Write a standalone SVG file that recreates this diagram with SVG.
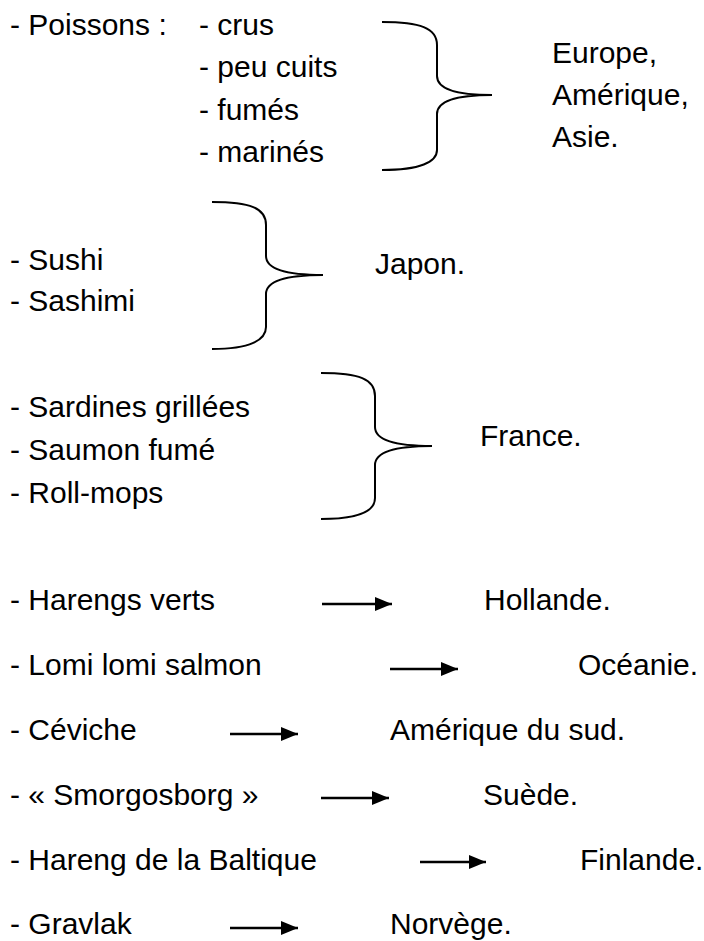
<svg xmlns="http://www.w3.org/2000/svg" width="704" height="941" viewBox="0 0 704 941">
<style>
text{font-family:"Liberation Sans",Arial,sans-serif;font-size:30px;fill:#000}
.brace{fill:none;stroke:#000;stroke-width:2}
.arr{stroke:#000;stroke-width:2.4;fill:none}
</style>
<defs>
<marker id="ah" viewBox="0 0 17 14" refX="17" refY="7" markerWidth="17" markerHeight="14" markerUnits="userSpaceOnUse" orient="auto">
<path d="M0,0 L17,7 L0,14 z" fill="#000"/>
</marker>
</defs>
<rect width="704" height="941" fill="#fff"/>
<g id="group-poissons">
<text x="10" y="35">- Poissons :</text>
<text x="199" y="35">- crus</text>
<text x="199" y="77">- peu cuits</text>
<text x="199" y="120">- fumés</text>
<text x="199" y="162">- marinés</text>
</g>
<g id="region-europe">
<text x="552" y="63">Europe,</text>
<text x="552" y="105">Amérique,</text>
<text x="552" y="147">Asie.</text>
</g>
<g id="group-japon">
<text x="10" y="270">- Sushi</text>
<text x="10" y="311">- Sashimi</text>
</g>
<g id="region-japon"><text x="375" y="274">Japon.</text></g>
<g id="group-france">
<text x="10" y="417">- Sardines grillées</text>
<text x="10" y="460">- Saumon fumé</text>
<text x="10" y="503">- Roll-mops</text>
</g>
<g id="region-france"><text x="480" y="446">France.</text></g>
<g id="braces">
<path class="brace" d="M382,22 C420,22 437,28 437,45 L437,76 C437,88 455,95 492,95 C455,95 437,102 437,114 L437,150 C437,162 420,170 382,170"/>
<path class="brace" d="M212,202 C250,202 266,208 266,225 L266,256 C266,268 284,275 323,275 C284,275 266,282 266,294 L266,327 C266,340 250,349 212,349"/>
<path class="brace" d="M321,373 C359,373 375,379 375,396 L375,427 C375,439 393,446 432,446 C393,446 375,453 375,465 L375,498 C375,511 359,519 321,519"/>
</g>
<g id="row-hollande"><text x="10" y="610">- Harengs verts</text><text x="484" y="610">Hollande.</text></g>
<g id="row-oceanie"><text x="10" y="675">- Lomi lomi salmon</text><text x="578" y="675">Océanie.</text></g>
<g id="row-amerique-sud"><text x="10" y="740">- Céviche</text><text x="390" y="740">Amérique du sud.</text></g>
<g id="row-suede"><text x="10" y="805">- « Smorgosborg »</text><text x="483" y="805">Suède.</text></g>
<g id="row-finlande"><text x="10" y="870">- Hareng de la Baltique</text><text x="580" y="870">Finlande.</text></g>
<g id="row-norvege"><text x="10" y="934">- Gravlak</text><text x="390" y="934">Norvège.</text></g>
<g id="connectors">
<line class="arr" x1="322" y1="604" x2="392" y2="604" marker-end="url(#ah)"/>
<line class="arr" x1="390" y1="669" x2="458" y2="669" marker-end="url(#ah)"/>
<line class="arr" x1="230" y1="734" x2="298" y2="734" marker-end="url(#ah)"/>
<line class="arr" x1="321" y1="798" x2="389" y2="798" marker-end="url(#ah)"/>
<line class="arr" x1="420" y1="862" x2="486" y2="862" marker-end="url(#ah)"/>
<line class="arr" x1="230" y1="928" x2="298" y2="928" marker-end="url(#ah)"/>
</g>
</svg>
